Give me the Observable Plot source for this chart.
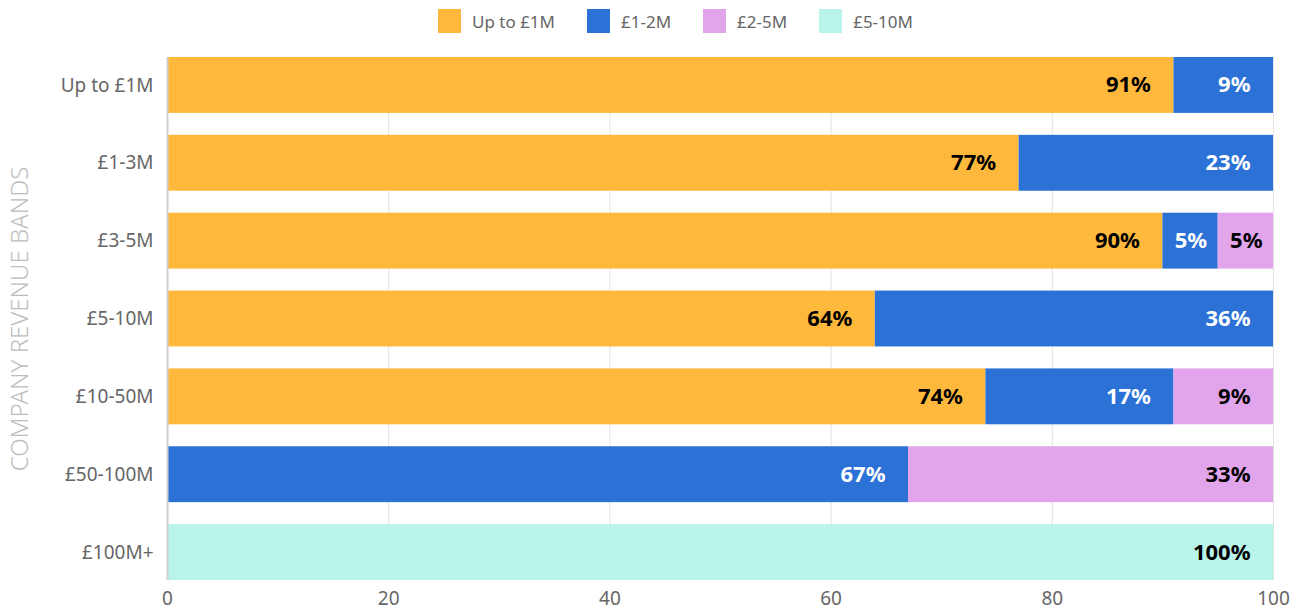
<!DOCTYPE html>
<html>
<head>
<meta charset="utf-8">
<script src="https://cdn.jsdelivr.net/npm/d3@7"></script>
<script src="https://cdn.jsdelivr.net/npm/@observablehq/plot@0.6"></script>
<style>
  html, body { margin: 0; padding: 0; background: #fff; }
  body { width: 1303px; height: 612px; overflow: hidden; font-family: "Noto Sans", Roboto, sans-serif; }
  #legend { height: 42px; display: flex; align-items: center; padding-left: 438px; box-sizing: border-box; }
  .item { display: flex; align-items: center; margin-right: 32px; font-size: 17px; color: #666; }
  .sw { width: 23px; height: 24px; margin-right: 11px; }
  #chart svg { display: block; }
</style>
</head>
<body>
<div id="legend"></div>
<div id="chart"></div>
<script>
const bands = ["Up to £1M", "£1-3M", "£3-5M", "£5-10M", "£10-50M", "£50-100M", "£100M+"];
const seriesNames = ["Up to £1M", "£1-2M", "£2-5M", "£5-10M"];
const seriesColors = ["#FEB93D", "#2C71D6", "#E2A5EC", "#B9F4EA"];
const upTo1M = [91, 77, 90, 64, 74, 0, 0];
const m1to2 = [9, 23, 5, 36, 17, 67, 0];
const m2to5 = [0, 0, 5, 0, 9, 33, 0];
const m5to10 = [0, 0, 0, 0, 0, 0, 100];
const xTicks = [0, 20, 40, 60, 80, 100];
const yTitle = "COMPANY REVENUE BANDS";

const seriesValues = [upTo1M, m1to2, m2to5, m5to10];
const data = [];
bands.forEach((b, i) => {
  seriesNames.forEach((s, j) => {
    const v = seriesValues[j][i];
    if (v > 0) data.push({band: b, series: s, value: v});
  });
});

// legend
const legend = document.getElementById("legend");
seriesNames.forEach((s, j) => {
  const it = document.createElement("div");
  it.className = "item";
  const sw = document.createElement("div");
  sw.className = "sw";
  sw.style.background = seriesColors[j];
  const t = document.createElement("span");
  t.textContent = s;
  it.appendChild(sw); it.appendChild(t);
  legend.appendChild(it);
});

const whiteSeries = "£1-2M";
const narrow = d => d.value <= 5;
const labelOpts = {
  x: "value", y: "band", z: "series",
  textAnchor: "end",
  fontSize: 22, fontWeight: "bold"
};
const label = (test, fill, dx) =>
  Plot.text(data, Plot.stackX2({...labelOpts, dx, fill, text: d => test(d) ? d.value + "%" : ""}));

const chart = Plot.plot({
  width: 1303,
  height: 570,
  marginLeft: 167,
  marginRight: 30,
  marginTop: 15,
  marginBottom: 32,
  style: {fontFamily: "'Noto Sans', Roboto, sans-serif", background: "#fff"},
  x: {domain: [0, 100], ticks: xTicks, label: null},
  y: {domain: bands, paddingInner: 22 / 78, paddingOuter: 0, round: false, label: null},
  color: {domain: seriesNames, range: seriesColors},
  marks: [
    Plot.gridX(xTicks, {stroke: "#e2e2e2", strokeOpacity: 1}),
    Plot.barX(data, Plot.stackX({x: "value", y: "band", z: "series", fill: "series"})),
    Plot.ruleX([0], {stroke: "#cfcfcf", strokeWidth: 2}),
    label(d => d.series !== whiteSeries && !narrow(d), "#000", -23),
    label(d => d.series === whiteSeries && !narrow(d), "#fff", -23),
    label(d => d.series !== whiteSeries && narrow(d), "#000", -11),
    label(d => d.series === whiteSeries && narrow(d), "#fff", -11),
    Plot.axisX({ticks: xTicks, tickSize: 0, tickPadding: 11, fontSize: 19, fill: "#666", label: null}),
    Plot.axisY({tickSize: 0, tickPadding: 14, fontSize: 19, fill: "#666", label: null}),
    Plot.text([yTitle], {frameAnchor: "left", textAnchor: "middle", rotate: -90, dx: -147, fontSize: 24, fill: "#bdbdbd", fontWeight: 300})
  ]
});
document.getElementById("chart").appendChild(chart);
</script>
</body>
</html>
